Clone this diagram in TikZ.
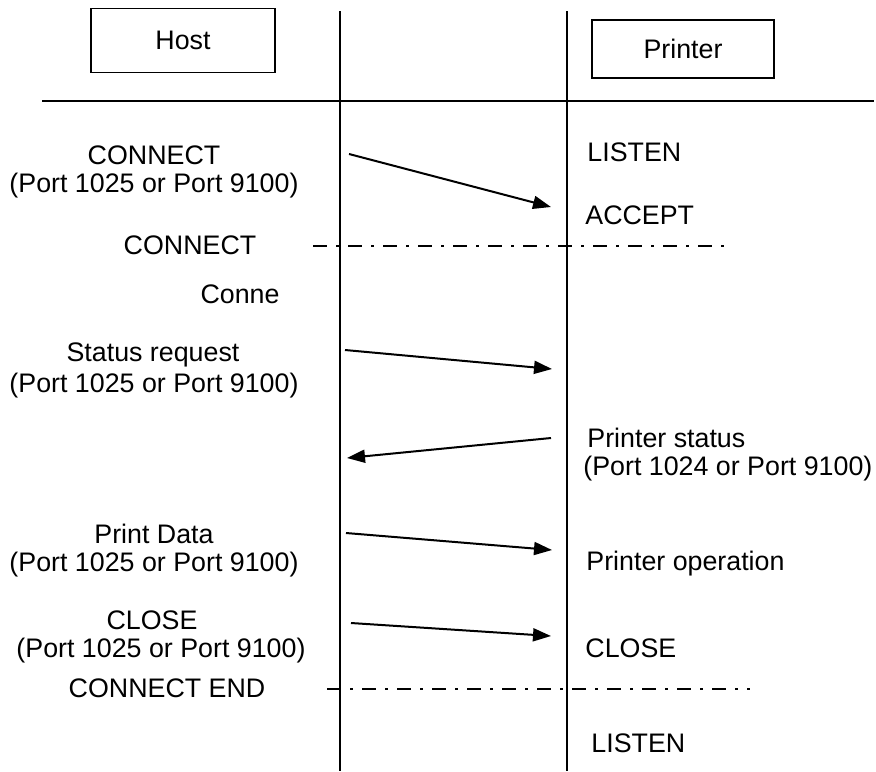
\documentclass[tikz,border=0pt]{standalone}
\usepackage{fontspec}
\setmainfont{Liberation Sans}
\usetikzlibrary{arrows.meta}
\begin{document}
\begin{tikzpicture}[x=0.5pt,y=-0.5pt,
  lbl/.style={inner sep=0pt,font=\fontsize{13.4}{16}\selectfont},
  rlbl/.style={lbl,anchor=west},
  hdr/.style={draw,line width=0.6pt,minimum width=92pt,minimum height=32pt,inner sep=0pt,font=\fontsize{13.4}{16}\selectfont},
  life/.style={line width=0.9pt},
  msg/.style={line width=1pt,-{Triangle[length=9pt,width=6.5pt]}},
  sep/.style={line width=1pt,dash pattern=on 7pt off 4.5pt on 1.5pt off 4.5pt}]
\useasboundingbox (0,0) rectangle (876,771);
% header boxes
\node[hdr] (host) at (183,40.5) {Host};
\node[hdr,minimum width=91pt,minimum height=29pt] (printer) at (683,49) {Printer};
% lifelines and header rule
\coordinate (l1top) at (340,11); \coordinate (l1bot) at (340,771);
\coordinate (l2top) at (567,11); \coordinate (l2bot) at (567,771);
\coordinate (hl) at (42,101); \coordinate (hr) at (874,101);
\draw[life] (l1top) -- (l1bot);
\draw[life] (l2top) -- (l2bot);
\draw[life] (hl) -- (hr);
% labels left
\node[lbl] (c1) at (154,155) {CONNECT};
\node[lbl] (c1p) at (154,186) {(Port 1025 or Port 9100)};
\node[lbl] (c2) at (190,245) {CONNECT};
\node[lbl] (cn) at (240,294) {Conne};
\node[lbl] (sr) at (153,355) {Status request};
\node[lbl] (srp) at (154,386) {(Port 1025 or Port 9100)};
\node[lbl] (pd) at (154,534) {Print Data};
\node[lbl] (pdp) at (154,565) {(Port 1025 or Port 9100)};
\node[lbl] (cl) at (152,620) {CLOSE};
\node[lbl] (clp) at (161,651) {(Port 1025 or Port 9100)};
\node[lbl] (ce) at (167,688) {CONNECT END};
% labels right
\node[rlbl] (ls1) at (587,152) {LISTEN};
\node[rlbl] (acc) at (585,215) {ACCEPT};
\node[rlbl] (ps) at (587,438) {Printer status};
\node[rlbl] (psp) at (583,469) {(Port 1024 or Port 9100)};
\node[rlbl] (po) at (586,564) {Printer operation};
\node[rlbl] (cl2) at (585,648) {CLOSE};
\node[rlbl] (ls2) at (591,743) {LISTEN};
% messages
\coordinate (m1a) at (349,154); \coordinate (m1b) at (551,207);
\coordinate (m2a) at (345,350); \coordinate (m2b) at (552,369);
\coordinate (m3a) at (551,438); \coordinate (m3b) at (347,458);
\coordinate (m4a) at (346,533); \coordinate (m4b) at (552,550);
\coordinate (m5a) at (351,623); \coordinate (m5b) at (551,636);
\draw[msg] (m1a) -- (m1b);
\draw[msg] (m2a) -- (m2b);
\draw[msg] (m3a) -- (m3b);
\draw[msg] (m4a) -- (m4b);
\draw[msg] (m5a) -- (m5b);
% separators
\coordinate (s1a) at (313,246); \coordinate (s1b) at (728,246);
\coordinate (s2a) at (327,689); \coordinate (s2b) at (750,689);
\draw[sep] (s1a) -- (s1b);
\draw[sep] (s2a) -- (s2b);
\end{tikzpicture}
\end{document}
